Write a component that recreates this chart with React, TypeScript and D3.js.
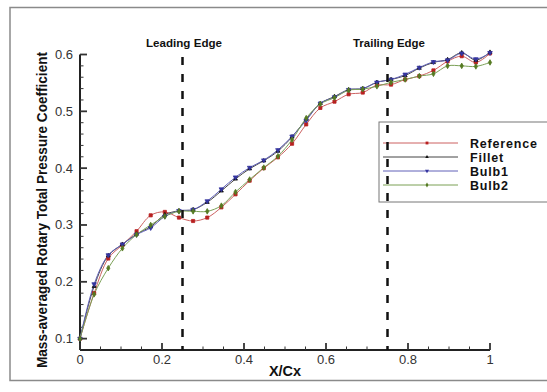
import { useEffect, useRef } from "react";
import * as d3 from "d3";

const xPos = d3.range(30).map((i) => i / 29);

const reference = [0.1, 0.18, 0.241, 0.265, 0.289, 0.317, 0.323, 0.313, 0.307, 0.313, 0.331, 0.354, 0.378, 0.4, 0.419, 0.443, 0.477, 0.506, 0.517, 0.53, 0.533, 0.546, 0.547, 0.556, 0.562, 0.572, 0.588, 0.597, 0.586, 0.602];
const fillet = [0.1, 0.192, 0.246, 0.266, 0.284, 0.297, 0.318, 0.325, 0.327, 0.34, 0.36, 0.381, 0.399, 0.413, 0.43, 0.455, 0.486, 0.514, 0.526, 0.538, 0.54, 0.551, 0.556, 0.563, 0.576, 0.586, 0.591, 0.603, 0.59, 0.604];
const bulb1 = [0.1, 0.196, 0.247, 0.266, 0.283, 0.295, 0.315, 0.325, 0.327, 0.342, 0.363, 0.384, 0.401, 0.414, 0.432, 0.456, 0.484, 0.514, 0.525, 0.538, 0.54, 0.551, 0.556, 0.565, 0.577, 0.587, 0.59, 0.602, 0.592, 0.603];
const bulb2 = [0.1, 0.178, 0.224, 0.259, 0.283, 0.3, 0.315, 0.324, 0.324, 0.324, 0.334, 0.358, 0.38, 0.401, 0.421, 0.45, 0.488, 0.513, 0.524, 0.537, 0.539, 0.544, 0.551, 0.556, 0.562, 0.566, 0.58, 0.58, 0.579, 0.586];

const seriesNames = ["Reference", "Fillet", "Bulb1", "Bulb2"];
const xTicks = [0, 0.2, 0.4, 0.6, 0.8, 1];
const yTicks = [0.1, 0.2, 0.3, 0.4, 0.5, 0.6];
const edgeX = [0.25, 0.75];
const edgeLabels = ["Leading Edge", "Trailing Edge"];

const App = () => {
  const ref = useRef<SVGSVGElement>(null);

  useEffect(() => {
    const svg = d3.select(ref.current);
    svg.selectAll("*").remove();

    const x = d3.scaleLinear().domain([0, 1]).range([80, 490]);
    const y = d3.scaleLinear().domain([0.08, 0.6]).range([350, 54.5]);
    const font = "'Liberation Sans', Arial, sans-serif";

    // frame
    svg.append("rect").attr("x", 10).attr("y", 7.5).attr("width", 560).attr("height", 373)
      .attr("fill", "none").attr("stroke", "#8a8a8a").attr("stroke-width", 1.5);

    const series = [
      { name: seriesNames[0], data: reference, line: "#cc6060", mark: "#b82020", sym: d3.symbolSquare, size: 10, rot: 0 },
      { name: seriesNames[1], data: fillet, line: "#444", mark: "#111", sym: d3.symbolTriangle, size: 7, rot: 0 },
      { name: seriesNames[2], data: bulb1, line: "#6060b8", mark: "#3535a0", sym: d3.symbolTriangle, size: 9, rot: 180 },
      { name: seriesNames[3], data: bulb2, line: "#7aa055", mark: "#557a22", sym: d3.symbolDiamond, size: 9, rot: 0 },
    ];

    // axes
    const g = svg.append("g");
    g.append("line").attr("x1", x(0)).attr("x2", x(1)).attr("y1", y(0.08)).attr("y2", y(0.08))
      .attr("stroke", "#222").attr("stroke-width", 2);
    g.append("line").attr("x1", x(0)).attr("x2", x(0)).attr("y1", y(0.08)).attr("y2", y(0.6))
      .attr("stroke", "#222").attr("stroke-width", 2);

    d3.range(0, 1.0001, 0.05).forEach((t) => {
      const major = xTicks.some((v) => Math.abs(v - t) < 1e-6);
      g.append("line").attr("x1", x(t)).attr("x2", x(t)).attr("y1", y(0.08)).attr("y2", y(0.08) - (major ? 7 : 3.5))
        .attr("stroke", "#333").attr("stroke-width", major ? 1.8 : 1);
    });
    d3.range(0.1, 0.6001, 0.02).forEach((t) => {
      const major = yTicks.some((v) => Math.abs(v - t) < 1e-6);
      g.append("line").attr("x1", x(0)).attr("x2", x(0) + (major ? 7 : 3.5)).attr("y1", y(t)).attr("y2", y(t))
        .attr("stroke", "#333").attr("stroke-width", major ? 1.8 : 1);
    });

    g.selectAll(".xl").data(xTicks).enter().append("text")
      .attr("x", (d) => x(d)).attr("y", 364).attr("text-anchor", "middle")
      .attr("font-family", font).attr("font-size", 13).attr("fill", "#333")
      .text((d) => String(d));
    g.selectAll(".yl").data(yTicks).enter().append("text")
      .attr("x", 73).attr("y", (d) => y(d) + 4.5).attr("text-anchor", "end")
      .attr("font-family", font).attr("font-size", 13).attr("fill", "#333")
      .text((d) => d.toFixed(1));

    g.append("text").attr("x", 285).attr("y", 376).attr("text-anchor", "middle")
      .attr("font-family", font).attr("font-weight", "bold").attr("font-size", 14.5).attr("fill", "#111")
      .text("X/Cx");
    g.append("text").attr("transform", "translate(46.5,210) rotate(-90)").attr("text-anchor", "middle")
      .attr("font-family", font).attr("font-weight", "bold").attr("font-size", 14.5).attr("fill", "#111")
      .attr("textLength", 316).attr("lengthAdjust", "spacingAndGlyphs")
      .text("Mass-averaged Rotary Total Pressure Coefficient");

    // series
    const lineGen = d3.line<number>().x((d, i) => x(xPos[i])).y((d) => y(d)).curve(d3.curveCatmullRom);
    series.forEach((s) => {
      svg.append("path").attr("d", lineGen(s.data)).attr("fill", "none")
        .attr("stroke", s.line).attr("stroke-width", 1);
    });
    series.forEach((s) => {
      const sym = d3.symbol().type(s.sym).size(s.size);
      svg.selectAll(null).data(s.data).enter().append("path")
        .attr("d", sym())
        .attr("transform", (d, i) => `translate(${x(xPos[i])},${y(d)}) rotate(${s.rot})`)
        .attr("fill", s.mark).attr("stroke", s.mark).attr("stroke-width", 0.8);
    });

    // legend
    const lg = svg.append("g");
    lg.append("rect").attr("x", 379).attr("y", 122).attr("width", 190).attr("height", 80)
      .attr("fill", "white").attr("stroke", "#777").attr("stroke-width", 1);
    series.forEach((s, i) => {
      const ly = 143 + i * 14;
      lg.append("line").attr("x1", 383).attr("x2", 458).attr("y1", ly).attr("y2", ly)
        .attr("stroke", s.line).attr("stroke-width", 1);
      lg.append("path").attr("d", d3.symbol().type(s.sym).size(s.size * 0.8)())
        .attr("transform", `translate(427,${ly}) rotate(${s.rot})`).attr("fill", s.mark);
      lg.append("text").attr("x", 470).attr("y", ly + 4.5)
        .attr("font-family", font).attr("font-weight", "bold").attr("font-size", 12.5).attr("fill", "#111")
        .attr("letter-spacing", 0.8)
        .text(s.name);
    });

    // edges
    edgeX.forEach((e, i) => {
      svg.append("line").attr("x1", x(e)).attr("x2", x(e)).attr("y1", 57).attr("y2", 350)
        .attr("stroke", "#111").attr("stroke-width", 2.5).attr("stroke-dasharray", "8,9");
      svg.append("text").attr("x", x(e) + 1.5).attr("y", 47).attr("text-anchor", "middle")
        .attr("font-family", font).attr("font-weight", "bold").attr("font-size", 11.5).attr("fill", "#111")
        .attr("textLength", i === 0 ? 76 : 72).attr("lengthAdjust", "spacingAndGlyphs")
        .text(edgeLabels[i]);
    });
  }, []);

  return (
    <div style={{ position: "absolute", left: 0, top: 0 }}>
      <svg ref={ref} width={547} height={392} style={{ display: "block", background: "white" }}></svg>
    </div>
  );
};

export default App;
